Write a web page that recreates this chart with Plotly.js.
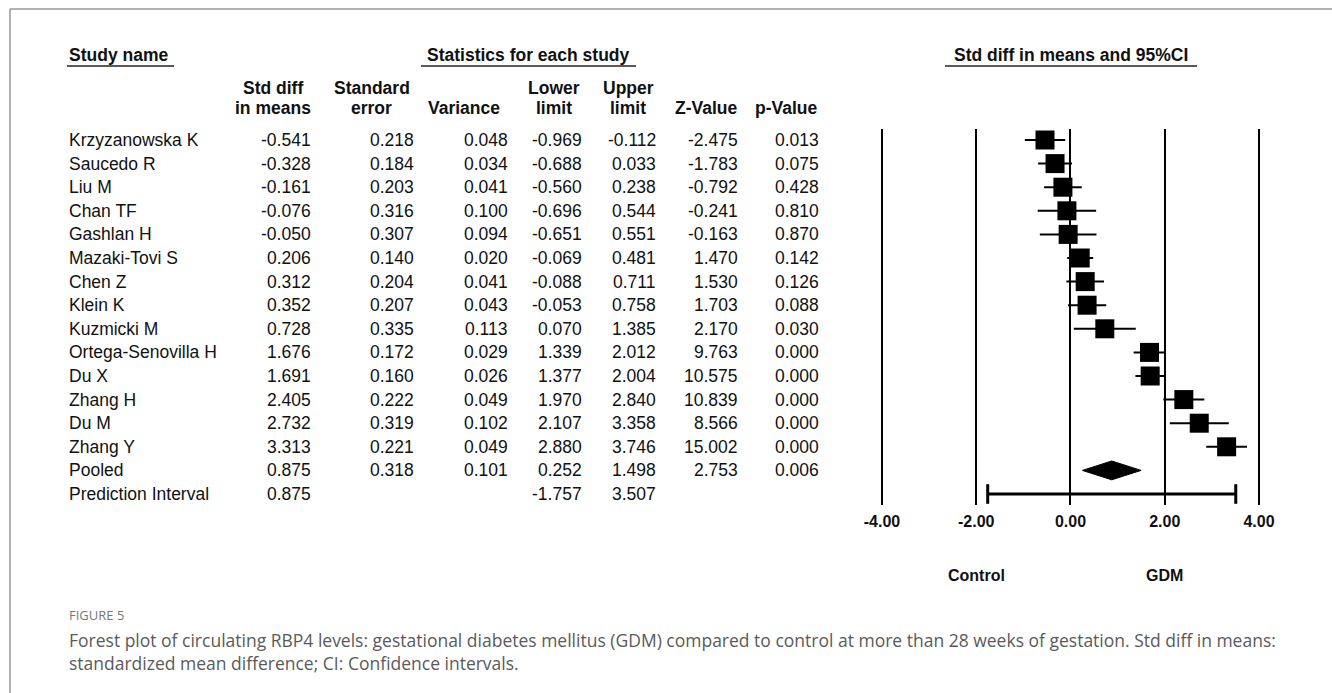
<!DOCTYPE html>
<html>
<head>
<meta charset="utf-8">
<script src="https://cdn.plot.ly/plotly-3.0.1.min.js"></script>
<style>html,body{margin:0;padding:0;background:#fff;}#chart{width:1332px;height:693px;}</style>
</head>
<body>
<div id="chart"></div>
<script>
// ---- data ----
const studies = ["Krzyzanowska K","Saucedo R","Liu M","Chan TF","Gashlan H","Mazaki-Tovi S","Chen Z","Klein K","Kuzmicki M","Ortega-Senovilla H","Du X","Zhang H","Du M","Zhang Y"];
const stdDiff = [-0.541,-0.328,-0.161,-0.076,-0.050,0.206,0.312,0.352,0.728,1.676,1.691,2.405,2.732,3.313];
const stdErr = [0.218,0.184,0.203,0.316,0.307,0.140,0.204,0.207,0.335,0.172,0.160,0.222,0.319,0.221];
const variance = [0.048,0.034,0.041,0.100,0.094,0.020,0.041,0.043,0.113,0.029,0.026,0.049,0.102,0.049];
const lowerLimit = [-0.969,-0.688,-0.560,-0.696,-0.651,-0.069,-0.088,-0.053,0.070,1.339,1.377,1.970,2.107,2.880];
const upperLimit = [-0.112,0.033,0.238,0.544,0.551,0.481,0.711,0.758,1.385,2.012,2.004,2.840,3.358,3.746];
const zValue = [-2.475,-1.783,-0.792,-0.241,-0.163,1.470,1.530,1.703,2.170,9.763,10.575,10.839,8.566,15.002];
const pValue = [0.013,0.075,0.428,0.810,0.870,0.142,0.126,0.088,0.030,0.000,0.000,0.000,0.000,0.000];

const pooledLabel = "Pooled";
const pooled = {stdDiff:0.875, stdErr:0.318, variance:0.101, lower:0.252, upper:1.498, z:2.753, p:0.006};
const piLabel = "Prediction Interval";
const predInterval = {stdDiff:0.875, lower:-1.757, upper:3.507};

const tickVals = [-4,-2,0,2,4];
const tickLabels = ["-4.00","-2.00","0.00","2.00","4.00"];
const sideLabels = [{x:-2, text:"Control"},{x:2, text:"GDM"}];

const colHeaders = [
  ["Std diff","in means"],["Standard","error"],["","Variance"],["Lower","limit"],["Upper","limit"],["","Z-Value"],["","p-Value"]
];
const captionLabel = "FIGURE 5";
const captionLines = [
  "Forest plot of circulating RBP4 levels: gestational diabetes mellitus (GDM) compared to control at more than 28 weeks of gestation. Std diff in means:",
  "standardized mean difference; CI: Confidence intervals."
];

// ---- layout helpers (pixel -> paper) ----
const W = 1332, H = 693;
const px = v => v / W;
const py = v => 1 - v / H;
const FONT = "Liberation Sans, Arial, sans-serif";
const fs = 17.5;

const rows = studies.map((_, i) => i);
const pooledRow = studies.length;
const piRow = studies.length + 1;

const annotations = [];
function txt(x, y, text, opts) {
  annotations.push(Object.assign({
    x: x, y: y, xref: 'paper', yref: 'paper', text: text, showarrow: false,
    xanchor: 'left', yanchor: 'middle',
    font: {family: FONT, size: fs, color: '#111'}
  }, opts || {}));
}

// headers
txt(px(67), py(55), "<b>Study name</b>");
txt(px(528), py(55), "<b>Statistics for each study</b>", {xanchor:'center'});
txt(px(1071), py(55), "<b>Std diff in means and 95%CI</b>", {xanchor:'center'});

const headerCenters = [273, 372, 464, 554, 628, 706, 786];
colHeaders.forEach((h, i) => {
  if (h[0]) txt(px(headerCenters[i]), py(88), "<b>" + h[0] + "</b>", {xanchor:'center'});
  txt(px(headerCenters[i]), py(108), "<b>" + h[1] + "</b>", {xanchor:'center'});
});

// table body (rows in data coords on y axis)
const colRight = [313, 416, 510, 584, 658, 740, 821];
function rowText(r, vals) {
  vals.forEach((v, j) => {
    if (v === null) return;
    annotations.push({
      x: px(colRight[j]), y: r, xref: 'paper', yref: 'y', text: v.toFixed(3), showarrow: false,
      xanchor: 'right', yanchor: 'middle', font: {family: FONT, size: fs, color: '#111'}
    });
  });
}
function rowName(r, name) {
  annotations.push({
    x: px(67), y: r, xref: 'paper', yref: 'y', text: name, showarrow: false,
    xanchor: 'left', yanchor: 'middle', font: {family: FONT, size: fs, color: '#111'}
  });
}
studies.forEach((s, i) => {
  rowName(i, s);
  rowText(i, [stdDiff[i], stdErr[i], variance[i], lowerLimit[i], upperLimit[i], zValue[i], pValue[i]]);
});
rowName(pooledRow, pooledLabel);
rowText(pooledRow, [pooled.stdDiff, pooled.stdErr, pooled.variance, pooled.lower, pooled.upper, pooled.z, pooled.p]);
rowName(piRow, piLabel);
rowText(piRow, [predInterval.stdDiff, null, null, predInterval.lower, predInterval.upper, null, null]);

// side labels
sideLabels.forEach(s => annotations.push({
  x: s.x, y: py(575), xref: 'x', yref: 'paper', text: "<b>" + s.text + "</b>", showarrow: false,
  xanchor: 'center', yanchor: 'middle', font: {family: FONT, size: 16, color: '#111'}
}));

// caption
annotations.push({x: px(67), y: py(615), xref:'paper', yref:'paper', text: captionLabel, showarrow:false,
  xanchor:'left', yanchor:'middle', font:{family:"Open Sans, Noto Sans, sans-serif", size:13, color:'#777'}});
captionLines.forEach((t, i) => annotations.push({x: px(67), y: py(640 + 23 * i), xref:'paper', yref:'paper', text: t, showarrow:false,
  xanchor:'left', yanchor:'middle', font:{family:"Open Sans, Noto Sans, sans-serif", size:17.5, color:'#5a5a5a'}}));

// shapes: underlines and frame
const shapes = [
  {type:'line', xref:'paper', yref:'paper', x0:px(67), x1:px(174), y0:py(66), y1:py(66), line:{color:'#222', width:1.5}},
  {type:'line', xref:'paper', yref:'paper', x0:px(421), x1:px(636), y0:py(66), y1:py(66), line:{color:'#222', width:1.5}},
  {type:'line', xref:'paper', yref:'paper', x0:px(945), x1:px(1197), y0:py(66), y1:py(66), line:{color:'#222', width:1.5}},
  {type:'line', xref:'paper', yref:'paper', x0:px(10), x1:px(1332), y0:py(9), y1:py(9), line:{color:'#999', width:1.5}},
  {type:'line', xref:'paper', yref:'paper', x0:px(10), x1:px(10), y0:py(9), y1:py(693), line:{color:'#999', width:1.5}}
];

// ---- traces ----
const studyTrace = {
  type:'scatter', mode:'markers', x: stdDiff, y: rows,
  marker:{symbol:'square', size:19, color:'#000', line:{width:0}},
  error_x:{type:'data', symmetric:false,
    array: upperLimit.map((u, i) => u - stdDiff[i]),
    arrayminus: lowerLimit.map((l, i) => stdDiff[i] - l),
    color:'#000', thickness:2, width:0},
  cliponaxis:false, hoverinfo:'skip', showlegend:false
};
const dh = 0.4;
const diamondTrace = {
  type:'scatter', mode:'lines', fill:'toself', fillcolor:'#000',
  x:[pooled.lower, pooled.stdDiff, pooled.upper, pooled.stdDiff, pooled.lower],
  y:[pooledRow, pooledRow - dh, pooledRow, pooledRow + dh, pooledRow],
  line:{color:'#000', width:1}, hoverinfo:'skip', showlegend:false
};
const piTrace = {
  type:'scatter', mode:'lines+markers',
  x:[predInterval.lower, predInterval.upper], y:[piRow, piRow],
  line:{color:'#000', width:3},
  marker:{symbol:'line-ns', size:14, color:'#000', line:{color:'#000', width:3}},
  cliponaxis:false, hoverinfo:'skip', showlegend:false
};

// axis mapping: x=-4 at 882px, x=4 at 1259px
const u = (1259 - 882) / 8;
const xr = [-4.2, 4.2];
const xd = [px(882 - 0.2 * u), px(1259 + 0.2 * u)];
const rowH = 23.6, row0 = 140;
const yTopPx = 129, yBotPx = 505;

const layout = {
  width: W, height: H,
  margin:{l:0, r:0, t:0, b:0, pad:0},
  paper_bgcolor:'#fff', plot_bgcolor:'rgba(0,0,0,0)',
  showlegend:false,
  xaxis:{domain: xd, range: xr, tickvals: tickVals, ticktext: tickLabels,
    showgrid:true, gridcolor:'#000', gridwidth:2, zeroline:false, showline:false, ticks:'',
    ticklabelstandoff: 5,
    tickfont:{family:FONT, size:16, color:'#111', weight:'bold'}, fixedrange:true},
  yaxis:{domain:[py(yBotPx), py(yTopPx)],
    range:[(yBotPx - row0) / rowH, (yTopPx - row0) / rowH],
    showgrid:false, zeroline:false, showticklabels:false, showline:false, ticks:'', fixedrange:true},
  annotations: annotations,
  shapes: shapes
};

Plotly.newPlot('chart', [studyTrace, diamondTrace, piTrace], layout, {staticPlot:true, displayModeBar:false});
</script>
</body>
</html>
